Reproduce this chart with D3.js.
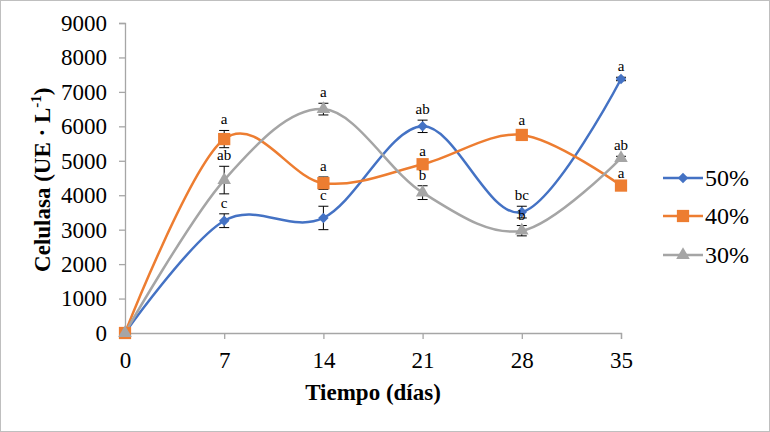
<!DOCTYPE html>
<html>
<head>
<meta charset="utf-8">
<script src="https://cdn.jsdelivr.net/npm/d3@7"></script>
<style>
  body { margin: 0; background: #fff; }
</style>
</head>
<body>
<svg width="770" height="432"></svg>
<script>
const days = [0, 7, 14, 21, 28, 35];
const yTicks = [0, 1000, 2000, 3000, 4000, 5000, 6000, 7000, 8000, 9000];

const names = ["50%", "40%", "30%"];
const values50 = [0, 3260, 3340, 6000, 3510, 7375];
const values40 = [0, 5630, 4350, 4900, 5750, 4280];
const values30 = [0, 4440, 6500, 4075, 2970, 5080];
const err50 = [0, 200, 340, 180, 170, 50];
const err40 = [0, 250, 180, 60, 110, 40];
const err30 = [0, 400, 170, 200, 150, 50];
const letters50 = ["", "c", "c", "ab", "bc", "a"];
const letters40 = ["", "a", "a", "a", "a", "a"];
const letters30 = ["", "ab", "a", "b", "b", "ab"];

const colors = ["#4472C4", "#ED7D31", "#A5A5A5"];
const symbols = [d3.symbolDiamond2, d3.symbolSquare, d3.symbolTriangle];
const symSizes = [70, 150, 80];

const FONT = '"Liberation Serif", "Times New Roman", Times, serif';

const series = [
  {name: names[0], vals: values50, err: err50, lab: letters50},
  {name: names[1], vals: values40, err: err40, lab: letters40},
  {name: names[2], vals: values30, err: err30, lab: letters30}
];

const svg = d3.select("svg");

// outer frame
svg.append("rect")
  .attr("x", 0.5).attr("y", 0.5)
  .attr("width", 769).attr("height", 431)
  .attr("fill", "none").attr("stroke", "#bfbfbf");

const x = d3.scaleLinear().domain([0, 35]).range([125, 621]);
const y = d3.scaleLinear().domain([0, 9000]).range([333, 23]);

const axisColor = "#a6a6a6";

// y axis
const yAxis = svg.append("g")
  .attr("transform", `translate(${x(0)},0)`)
  .call(d3.axisLeft(y).tickValues(yTicks).tickSize(6).tickPadding(12).tickFormat(d3.format("d")));
// x axis
const xAxis = svg.append("g")
  .attr("transform", `translate(0,${y(0)})`)
  .call(d3.axisBottom(x).tickValues(days).tickSize(6).tickPadding(13).tickFormat(d3.format("d")));

[yAxis, xAxis].forEach(a => {
  a.attr("font-family", FONT);
  a.select(".domain").attr("stroke", axisColor).attr("stroke-width", 1.3);
  a.selectAll(".tick line").attr("stroke", axisColor).attr("stroke-width", 1.3);
  a.selectAll(".tick text").attr("fill", "#000")
    .style("font-size", "23px").style("font-family", FONT);
});

// axis titles
const yTitle = svg.append("text")
  .attr("transform", `translate(50,${y(4450)}) rotate(-90)`)
  .attr("text-anchor", "middle")
  .style("font-family", FONT)
  .style("font-size", "23px").style("font-weight", "bold");
yTitle.append("tspan").text("Celulasa (UE · L");
yTitle.append("tspan").attr("dy", -9).style("font-size", "15px").text("-1");
yTitle.append("tspan").attr("dy", 9).text(")");

svg.append("text")
  .attr("x", 373).attr("y", 400)
  .attr("text-anchor", "middle")
  .style("font-family", FONT)
  .style("font-size", "23px").style("font-weight", "bold")
  .text("Tiempo (días)");

const line = d3.line()
  .x((d, i) => x(days[i]))
  .y(d => y(d))
  .curve(d3.curveCardinal.tension(0));

// lines
series.forEach((s, k) => {
  svg.append("path")
    .datum(s.vals)
    .attr("d", line)
    .attr("fill", "none")
    .attr("stroke", colors[k])
    .attr("stroke-width", 2.5);
});

// error bars
series.forEach((s, k) => {
  const g = svg.append("g");
  s.vals.forEach((v, i) => {
    if (s.err[i] <= 0) return;
    const cx = x(days[i]);
    const y1 = y(v + s.err[i]), y2 = y(v - s.err[i]);
    g.append("line").attr("x1", cx).attr("x2", cx).attr("y1", y1).attr("y2", y2)
      .attr("stroke", "#000").attr("stroke-width", 1);
    [y1, y2].forEach(yy => {
      g.append("line").attr("x1", cx - 5).attr("x2", cx + 5).attr("y1", yy).attr("y2", yy)
        .attr("stroke", "#000").attr("stroke-width", 1);
    });
  });
});

// markers
series.forEach((s, k) => {
  svg.append("g").selectAll("path")
    .data(s.vals)
    .join("path")
    .attr("transform", (d, i) => `translate(${x(days[i])},${y(d)})`)
    .attr("d", d3.symbol().type(symbols[k]).size(symSizes[k]))
    .attr("fill", colors[k]);
});

// significance letters
series.forEach((s, k) => {
  svg.append("g").selectAll("text")
    .data(s.vals)
    .join("text")
    .attr("x", (d, i) => x(days[i]))
    .attr("y", (d, i) => y(d + s.err[i]) - 6)
    .attr("text-anchor", "middle")
    .style("font-family", FONT)
    .style("font-size", "15px")
    .text((d, i) => s.lab[i]);
});

// legend
const legend = svg.append("g");
const legendY = [178, 216, 255];
series.forEach((s, k) => {
  const g = legend.append("g").attr("transform", `translate(663,${legendY[k]})`);
  g.append("line").attr("x1", 0).attr("x2", 40).attr("y1", 0).attr("y2", 0)
    .attr("stroke", colors[k]).attr("stroke-width", 2.5);
  g.append("path").attr("transform", "translate(20,0)")
    .attr("d", d3.symbol().type(symbols[k]).size(symSizes[k]))
    .attr("fill", colors[k]);
  g.append("text").attr("x", 42).attr("y", 8)
    .style("font-family", FONT)
    .style("font-size", "24px")
    .text(s.name);
});
</script>
</body>
</html>
